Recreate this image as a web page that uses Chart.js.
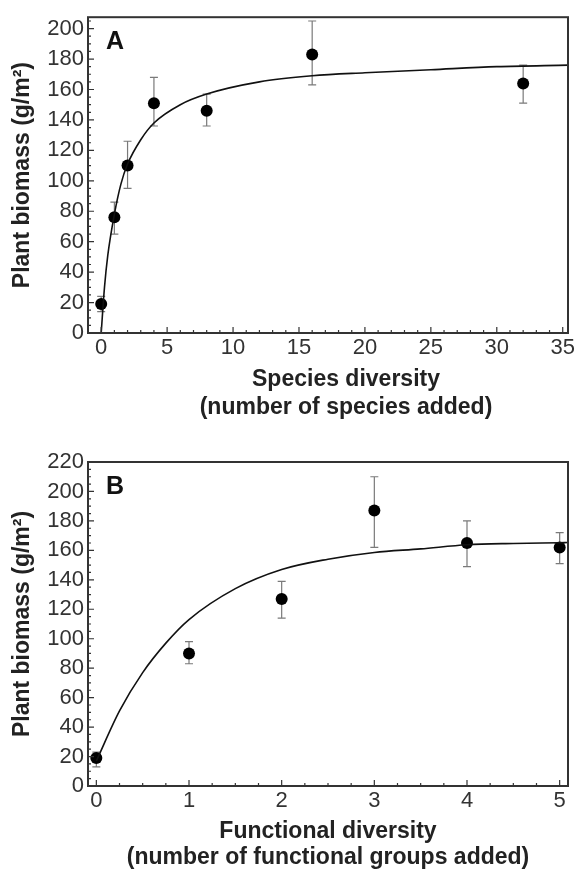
<!DOCTYPE html>
<html>
<head>
<meta charset="utf-8">
<script src="https://cdn.jsdelivr.net/npm/chart.js@4.4.1/dist/chart.umd.min.js"></script>
<style>
  body { margin: 0; background: #fff; width: 579px; height: 876px; overflow: hidden; }
  canvas { position: absolute; left: 0; }
  #chartA { top: 0; }
  #chartB { top: 440px; }
</style>
</head>
<body>
<canvas id="chartA" width="579" height="440"></canvas>
<canvas id="chartB" width="579" height="436"></canvas>
<script>
// Panel A: species diversity
const speciesX = [0, 1, 2, 4, 8, 16, 32];
const speciesMean = [19, 76, 110, 151, 146, 183, 164];
const speciesHi = [24, 86, 126, 168, 157, 205, 176];
const speciesLo = [14, 65, 95, 136, 136, 163, 151];
const speciesFitX = [0, 0.25, 0.5, 1, 1.5, 2, 3, 4, 6, 8, 12, 16, 20, 25, 30, 35.4];
const speciesFitY = [0, 30, 51, 78, 98, 111, 127, 138, 150, 157, 165, 169, 171, 173, 175, 176];
const speciesTicks = [0, 5, 10, 15, 20, 25, 30, 35];
const biomassTicksA = [0, 20, 40, 60, 80, 100, 120, 140, 160, 180, 200];

// Panel B: functional diversity
const functionalX = [0, 1, 2, 3, 4, 5];
const functionalMean = [19, 90, 127, 187, 165, 162];
const functionalHi = [23, 98, 139, 210, 180, 172];
const functionalLo = [13, 83, 114, 162, 149, 151];
const functionalFitX = [0, 0.25, 0.5, 0.75, 1, 1.5, 2, 2.5, 3, 3.5, 4, 4.5, 5, 5.09];
const functionalFitY = [17, 51, 77, 97, 113, 134, 147, 154, 158.6, 161, 163.8, 164.7, 165.2, 165.3];
const functionalTicks = [0, 1, 2, 3, 4, 5];
const biomassTicksB = [0, 20, 40, 60, 80, 100, 120, 140, 160, 180, 200, 220];

const yTitle = 'Plant biomass (g/m\u00B2)';
const fontFam = '"Liberation Sans", Arial, Helvetica, sans-serif';

// box, inward ticks, error bars, panel letter and x caption
const decor = {
    id: 'decor',
    beforeDatasetsDraw(chart, args, o) {
        const ctx = chart.ctx, xs = chart.scales.x, ys = chart.scales.y;
        ctx.save();
        ctx.strokeStyle = '#7a7a7a';
        ctx.lineWidth = 1.2;
        o.errX.forEach((x, i) => {
            const px = xs.getPixelForValue(x);
            const hi = ys.getPixelForValue(o.errHi[i]);
            const lo = ys.getPixelForValue(o.errLo[i]);
            ctx.beginPath();
            ctx.moveTo(px, hi); ctx.lineTo(px, lo);
            ctx.moveTo(px - 4, hi); ctx.lineTo(px + 4, hi);
            ctx.moveTo(px - 4, lo); ctx.lineTo(px + 4, lo);
            ctx.stroke();
        });
        ctx.restore();
    },
    afterDraw(chart, args, o) {
        const ctx = chart.ctx, xs = chart.scales.x, ys = chart.scales.y;
        const a = chart.chartArea;
        ctx.save();
        ctx.strokeStyle = '#333';
        ctx.lineWidth = 1.2;
        ctx.beginPath();
        for (let i = Math.ceil(xs.min / o.xMinor); i * o.xMinor <= xs.max + 1e-9; i++) {
            const v = i * o.xMinor;
            const major = Math.abs(v / o.xMajor - Math.round(v / o.xMajor)) < 1e-6;
            const px = xs.getPixelForValue(v);
            ctx.moveTo(px, a.bottom); ctx.lineTo(px, a.bottom - (major ? 6 : 3));
        }
        for (let i = Math.ceil(ys.min / o.yMinor); i * o.yMinor <= ys.max + 1e-9; i++) {
            const v = i * o.yMinor;
            const major = Math.abs(v / o.yMajor - Math.round(v / o.yMajor)) < 1e-6;
            const py = ys.getPixelForValue(v);
            ctx.moveTo(a.left, py); ctx.lineTo(a.left + (major ? 6 : 3), py);
        }
        ctx.stroke();
        ctx.lineWidth = 2;
        ctx.strokeRect(a.left, a.top, a.right - a.left, a.bottom - a.top);

        ctx.fillStyle = '#111';
        ctx.font = 'bold 25px ' + fontFam;
        ctx.textBaseline = 'middle';
        ctx.textAlign = 'left';
        ctx.fillText(o.letter, a.left + 18, a.top + 25);

        ctx.fillStyle = '#222';
        ctx.font = 'bold 23px ' + fontFam;
        ctx.textAlign = 'center';
        const cx = (a.left + a.right) / 2 + o.captionShift;
        o.caption.forEach((line, i) => ctx.fillText(line, cx, o.captionY[i]));
        ctx.restore();
    }
};

function makePanel(id, p) {
    return new Chart(document.getElementById(id), {
        type: 'scatter',
        data: {
            datasets: [
                {
                    data: p.fitX.map((x, i) => ({ x, y: p.fitY[i] })),
                    showLine: true,
                    borderColor: '#111',
                    borderWidth: 1.6,
                    pointRadius: 0,
                    cubicInterpolationMode: 'monotone'
                },
                {
                    data: p.x.map((x, i) => ({ x, y: p.mean[i] })),
                    pointRadius: 6,
                    backgroundColor: '#000',
                    borderColor: '#000',
                    borderWidth: 0
                }
            ]
        },
        options: {
            responsive: false,
            animation: false,
            devicePixelRatio: 1,
            layout: { padding: { top: p.padTop, right: 11, left: 0, bottom: 0 } },
            plugins: {
                legend: { display: false },
                tooltip: { enabled: false },
                decor: {
                    letter: p.letter,
                    errX: p.x, errHi: p.hi, errLo: p.lo,
                    xMinor: p.xMinor, xMajor: p.xMajor, yMinor: 5, yMajor: 20,
                    caption: p.caption, captionY: p.captionY, captionShift: p.captionShift
                }
            },
            scales: {
                x: {
                    type: 'linear',
                    min: p.xMin, max: p.xMax,
                    afterBuildTicks: s => { s.ticks = p.xTicks.map(v => ({ value: v })); },
                    afterFit: s => { s.height = p.xAxisH; },
                    grid: { display: false, drawTicks: false },
                    border: { display: false },
                    ticks: { padding: 2, color: '#333', font: { family: fontFam, size: 22 } }
                },
                y: {
                    type: 'linear',
                    min: 0, max: p.yMax,
                    afterBuildTicks: s => { s.ticks = p.yTicks.map(v => ({ value: v })); },
                    afterFit: s => { s.width = 88; },
                    grid: { display: false, drawTicks: false },
                    border: { display: false },
                    ticks: { padding: 4, color: '#333', font: { family: fontFam, size: 22 } },
                    title: {
                        display: true,
                        text: yTitle,
                        color: '#222',
                        padding: { top: 9, bottom: 0 },
                        font: { family: fontFam, size: 23, weight: 'bold' }
                    }
                }
            }
        },
        plugins: [decor]
    });
}

makePanel('chartA', {
    letter: 'A',
    x: speciesX, mean: speciesMean, hi: speciesHi, lo: speciesLo,
    fitX: speciesFitX, fitY: speciesFitY,
    xMin: -1, xMax: 35.4, xTicks: speciesTicks, xMinor: 1, xMajor: 5,
    yMax: 207.5, yTicks: biomassTicksA,
    padTop: 8, xAxisH: 107,
    caption: ['Species diversity', '(number of species added)'],
    captionY: [380, 408], captionShift: 18
});

makePanel('chartB', {
    letter: 'B',
    x: functionalX, mean: functionalMean, hi: functionalHi, lo: functionalLo,
    fitX: functionalFitX, fitY: functionalFitY,
    xMin: -0.09, xMax: 5.09, xTicks: functionalTicks, xMinor: 0.25, xMajor: 1,
    yMax: 220, yTicks: biomassTicksB,
    padTop: 22, xAxisH: 90,
    caption: ['Functional diversity', '(number of functional groups added)'],
    captionY: [392, 418], captionShift: 0
});
</script>
</body>
</html>
